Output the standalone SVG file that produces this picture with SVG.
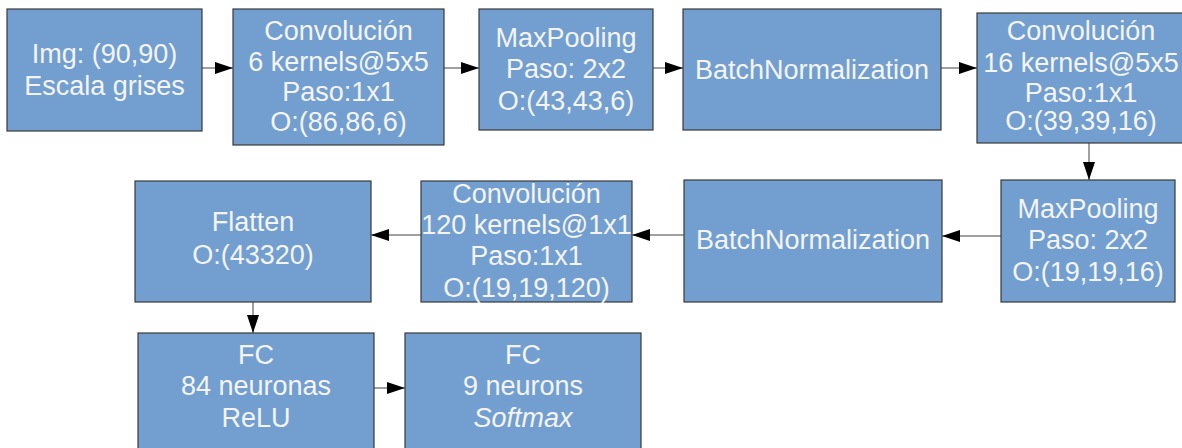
<svg xmlns="http://www.w3.org/2000/svg" width="1182" height="448" viewBox="0 0 1182 448">
<style>
.box{fill:#729fcf;stroke:#3a3a3a;stroke-width:1.2}
.t{font-family:"Liberation Sans",Arial,sans-serif;font-size:27px;fill:#f4f4f4;text-anchor:middle}
.c{fill:none;stroke:#808080;stroke-width:1.5}
</style>
<defs>
<marker id="ah" markerUnits="userSpaceOnUse" markerWidth="19" markerHeight="13" refX="18" refY="6.5" orient="auto">
<path d="M0,0.5 L18,6.5 L0,12.5 z" fill="#000"/>
</marker>
</defs>
<rect width="1182" height="448" fill="#ffffff"/>
<g id="connectors">
<line class="c" x1="202" y1="68" x2="233" y2="68" marker-end="url(#ah)"/>
<line class="c" x1="444" y1="68" x2="479" y2="68" marker-end="url(#ah)"/>
<line class="c" x1="653" y1="68" x2="683" y2="68" marker-end="url(#ah)"/>
<line class="c" x1="941" y1="68" x2="977" y2="68" marker-end="url(#ah)"/>
<line class="c" x1="1089" y1="143" x2="1089" y2="180" marker-end="url(#ah)"/>
<line class="c" x1="1001" y1="236" x2="942" y2="236" marker-end="url(#ah)"/>
<line class="c" x1="684" y1="235" x2="632" y2="235" marker-end="url(#ah)"/>
<line class="c" x1="421" y1="235" x2="371" y2="235" marker-end="url(#ah)"/>
<line class="c" x1="253" y1="302" x2="253" y2="333" marker-end="url(#ah)"/>
<line class="c" x1="374" y1="388" x2="405" y2="388" marker-end="url(#ah)"/>
</g>
<g id="n1">
<rect class="box" x="7" y="9" width="195" height="122"/>
<text class="t" x="104.5" y="63">Img: (90,90)</text>
<text class="t" x="104.5" y="95">Escala grises</text>
</g>
<g id="n2">
<rect class="box" x="233" y="9" width="211" height="136"/>
<text class="t" x="338.5" y="40">Convolución</text>
<text class="t" x="338.5" y="71">6 kernels@5x5</text>
<text class="t" x="338.5" y="101">Paso:1x1</text>
<text class="t" x="338.5" y="131">O:(86,86,6)</text>
</g>
<g id="n3">
<rect class="box" x="479" y="9" width="174" height="121"/>
<text class="t" x="566" y="47">MaxPooling</text>
<text class="t" x="566" y="78">Paso: 2x2</text>
<text class="t" x="566" y="110">O:(43,43,6)</text>
</g>
<g id="n4">
<rect class="box" x="683" y="9" width="258" height="121"/>
<text class="t" x="812" y="79">BatchNormalization</text>
</g>
<g id="n5">
<rect class="box" x="977" y="13" width="206" height="130"/>
<text class="t" x="1081" y="40">Convolución</text>
<text class="t" x="1081" y="72">16 kernels@5x5</text>
<text class="t" x="1081" y="102">Paso:1x1</text>
<text class="t" x="1081" y="130">O:(39,39,16)</text>
</g>
<g id="n6">
<rect class="box" x="1001" y="180" width="174" height="122"/>
<text class="t" x="1088" y="218">MaxPooling</text>
<text class="t" x="1088" y="249">Paso: 2x2</text>
<text class="t" x="1088" y="281">O:(19,19,16)</text>
</g>
<g id="n7">
<rect class="box" x="684" y="180" width="258" height="122"/>
<text class="t" x="813" y="249">BatchNormalization</text>
</g>
<g id="n8">
<rect class="box" x="421" y="181" width="211" height="121"/>
<text class="t" x="526.5" y="203">Convolución</text>
<text class="t" x="526.5" y="234">120 kernels@1x1</text>
<text class="t" x="526.5" y="265">Paso:1x1</text>
<text class="t" x="526.5" y="297">O:(19,19,120)</text>
</g>
<g id="n9">
<rect class="box" x="135" y="181" width="236" height="121"/>
<text class="t" x="253" y="231">Flatten</text>
<text class="t" x="253" y="264">O:(43320)</text>
</g>
<g id="n10">
<rect class="box" x="138" y="333" width="236" height="130"/>
<text class="t" x="256" y="364">FC</text>
<text class="t" x="256" y="395">84 neuronas</text>
<text class="t" x="256" y="427">ReLU</text>
</g>
<g id="n11">
<rect class="box" x="405" y="333" width="236" height="130"/>
<text class="t" x="523" y="364">FC</text>
<text class="t" x="523" y="395">9 neurons</text>
<text class="t" x="523" y="427" font-style="italic">Softmax</text>
</g>
</svg>
